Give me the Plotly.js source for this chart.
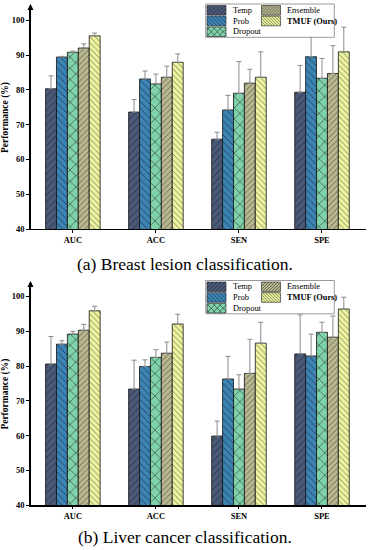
<!DOCTYPE html>
<html>
<head>
<meta charset="utf-8">
<script src="https://cdn.plot.ly/plotly-3.0.1.min.js"></script>
<style>html,body{margin:0;padding:0;background:#fff;}#chart{width:368px;height:550px;}</style>
</head>
<body>
<div id="chart"></div>
<script>
// ---- data ----
const categories = ['AUC', 'ACC', 'SEN', 'SPE'];
const methods = ['Temp', 'Prob', 'Dropout', 'Ensemble', 'TMUF (Ours)'];

// (a) Breast lesion classification
const breastTemp     = [80.3, 73.6, 65.8, 79.3];
const breastTempErr  = [3.7, 3.6, 2.0, 7.7];
const breastProb     = [89.4, 83.1, 74.2, 89.5];
const breastProbErr  = [0.2, 2.3, 4.2, 5.6];
const breastDrop     = [90.8, 81.7, 79.0, 83.3];
const breastDropErr  = [0.3, 2.8, 9.1, 5.7];
const breastEns      = [92.0, 83.6, 81.9, 84.7];
const breastEnsErr   = [1.2, 3.2, 4.0, 8.0];
const breastTmuf     = [95.5, 87.9, 83.6, 90.9];
const breastTmufErr  = [0.8, 2.4, 7.3, 7.1];

// (b) Liver cancer classification
const liverTemp     = [80.6, 73.4, 59.9, 83.5];
const liverTempErr  = [7.9, 8.3, 4.3, 11.2];
const liverProb     = [86.3, 79.9, 76.3, 82.9];
const liverProbErr  = [1.0, 1.9, 6.5, 6.3];
const liverDrop     = [89.2, 82.5, 73.4, 89.7];
const liverDropErr  = [0.8, 2.2, 4.1, 2.9];
const liverEns      = [90.3, 83.7, 77.9, 88.3];
const liverEnsErr   = [1.7, 3.2, 9.8, 6.1];
const liverTmuf     = [95.9, 92.1, 86.6, 96.4];
const liverTmufErr  = [1.3, 2.8, 6.0, 3.4];

const yTickVals = [40, 50, 60, 70, 80, 90, 100];
const captions = ['(a) Breast lesion classification.', '(b) Liver cancer classification.'];

// ---- styles ----
const W = 368, H = 550;
const styles = [
  {color: '#4b5978', shape: '/',  size: 5, hx: 4},
  {color: '#3d84b6', shape: '\\', size: 5, hx: 4},
  {color: '#7fd2a9', shape: 'x',  size: 8, hx: 6},
  {color: '#b9b78f', shape: '/',  size: 4, hx: 3},
  {color: '#eef39f', shape: '\\', size: 4, hx: 3}
];
const serif = 'Liberation Serif';

const breastSets = [[breastTemp, breastTempErr], [breastProb, breastProbErr], [breastDrop, breastDropErr], [breastEns, breastEnsErr], [breastTmuf, breastTmufErr]];
const liverSets  = [[liverTemp, liverTempErr], [liverProb, liverProbErr], [liverDrop, liverDropErr], [liverEns, liverEnsErr], [liverTmuf, liverTmufErr]];

const traces = [];
function addTraces(sets, xa, ya) {
  sets.forEach((s, i) => {
    const st = styles[i];
    traces.push({
      type: 'bar', name: methods[i], x: categories, y: s[0],
      xaxis: xa, yaxis: ya, showlegend: false,
      marker: {
        color: st.color,
        line: {color: '#111', width: 0.8},
        pattern: {shape: st.shape, size: st.size, solidity: 0.14, fgcolor: '#151515', fgopacity: 0.8, bgcolor: st.color}
      },
      error_y: {type: 'data', symmetric: false, array: s[1], arrayminus: s[1].map(() => 0),
                color: '#8a8a8a', thickness: 1, width: 2.5}
    });
  });
}
addTraces(breastSets, 'x', 'y');
addTraces(liverSets, 'x2', 'y2');

// ---- layout geometry (px) ----
const axL = 30.5, axR = 366;
const panels = [
  {bottom: 229, top: 6, off: 0},
  {bottom: 505.3, top: 283, off: 276.5}
];
const pxPerUnit = 3.48;
function yRange(p) { return [40, 40 + (p.bottom - p.top) / pxPerUnit]; }
function px(x, y) { return [x / W, 1 - y / H]; }

function axisX(p, anchor) {
  return {
    type: 'category', categoryorder: 'array', categoryarray: categories,
    domain: [axL / W, axR / W], anchor: anchor, range: [-0.51, 3.53],
    showline: true, linecolor: '#000', linewidth: 1.2, ticks: 'outside', ticklen: 2.5, tickcolor: '#000',
    showgrid: false, zeroline: false,
    tickfont: {family: serif, size: 8.5, color: '#000', weight: 'bold'}
  };
}
function axisY(p, anchor) {
  return {
    domain: [1 - p.bottom / H, 1 - p.top / H], anchor: anchor, range: yRange(p),
    tickvals: yTickVals, showline: true, linecolor: '#000', linewidth: 1.2,
    ticks: 'outside', ticklen: 3, tickcolor: '#000', showgrid: false, zeroline: false,
    tickfont: {family: serif, size: 8.5, color: '#000', weight: 'bold'},
    title: {text: 'Performance (%)', standoff: 3, font: {family: serif, size: 9.5, color: '#000', weight: 'bold'}}
  };
}

// ---- compact legend (shapes + annotations) ----
const shapes = [], annotations = [];
function hatch(x0, y0, x1, y1, s, dir) {
  let d = '';
  const seg = (ax, ay, bx, by) => {
    const a = px(ax, ay), b = px(bx, by);
    d += 'M' + a[0] + ',' + a[1] + 'L' + b[0] + ',' + b[1];
  };
  if (dir === '/' || dir === 'x') {
    for (let c = x0 + y0 + s / 2; c < x1 + y1; c += s) {
      const xs = Math.max(x0, c - y1), xe = Math.min(x1, c - y0);
      if (xe > xs) seg(xs, c - xs, xe, c - xe);
    }
  }
  if (dir === '\\' || dir === 'x') {
    for (let c = x0 - y1 + s / 2; c < x1 - y0; c += s) {
      const xs = Math.max(x0, c + y0), xe = Math.min(x1, c + y1);
      if (xe > xs) seg(xs, xs - c, xe, xe - c);
    }
  }
  return d;
}
const legPos = [[0, 0], [0, 1], [0, 2], [1, 0], [1, 1]];
const swX = [207, 261.5], txX = [230.5, 285], rowY = [10.3, 21, 31.7];
panels.forEach(p => {
  const o = p.off;
  const b0 = px(205.7, 4 + o), b1 = px(334.3, 37.3 + o);
  shapes.push({type: 'rect', xref: 'paper', yref: 'paper', x0: b0[0], y0: b1[1], x1: b1[0], y1: b0[1],
               fillcolor: '#fff', line: {color: '#9a9a9a', width: 1}});
  methods.forEach((m, i) => {
    const [c, r] = legPos[i];
    const st = styles[i];
    const sx0 = swX[c], sx1 = swX[c] + 19, sy0 = rowY[r] + o - 4.8, sy1 = rowY[r] + o + 4.8;
    const a = px(sx0, sy0), b = px(sx1, sy1);
    shapes.push({type: 'rect', xref: 'paper', yref: 'paper', x0: a[0], y0: b[1], x1: b[0], y1: a[1],
                 fillcolor: st.color, line: {color: '#222', width: 0.6}});
    shapes.push({type: 'path', xref: 'paper', yref: 'paper', path: hatch(sx0, sy0, sx1, sy1, st.hx, st.shape),
                 fillcolor: 'rgba(0,0,0,0)', line: {color: 'rgba(20,20,20,0.8)', width: 0.6}});
    const t = px(txX[c], rowY[r] + o);
    annotations.push({xref: 'paper', yref: 'paper', x: t[0], y: t[1], xanchor: 'left', yanchor: 'middle',
                      text: i === 4 ? '<b>' + m + '</b>' : m, showarrow: false,
                      font: {family: serif, size: 8.4, color: '#000'}});
  });
  const tip = px(axL, p.top - 2);
  annotations.push({xref: 'paper', yref: 'paper', x: tip[0], y: tip[1], ax: 0, ay: 8, axref: 'pixel', ayref: 'pixel',
                    showarrow: true, arrowhead: 2, arrowsize: 1, arrowwidth: 1.2, arrowcolor: '#000', text: ''});
});
const capY = [264, 537];
capY.forEach((cy, i) => {
  const c = px(185, cy);
  annotations.push({xref: 'paper', yref: 'paper', x: c[0], y: c[1], xanchor: 'center', yanchor: 'middle',
                    text: captions[i], showarrow: false, font: {family: serif, size: 17.5, color: '#000'}});
});

const layout = {
  width: W, height: H, margin: {l: 0, r: 0, t: 0, b: 0},
  paper_bgcolor: '#fff', plot_bgcolor: '#fff',
  barmode: 'group', bargap: 0.343, bargroupgap: 0,
  showlegend: false,
  xaxis: axisX(panels[0], 'y'), yaxis: axisY(panels[0], 'x'),
  xaxis2: axisX(panels[1], 'y2'), yaxis2: axisY(panels[1], 'x2'),
  shapes: shapes, annotations: annotations
};

Plotly.newPlot('chart', traces, layout, {staticPlot: true, displayModeBar: false});
</script>
</body>
</html>
